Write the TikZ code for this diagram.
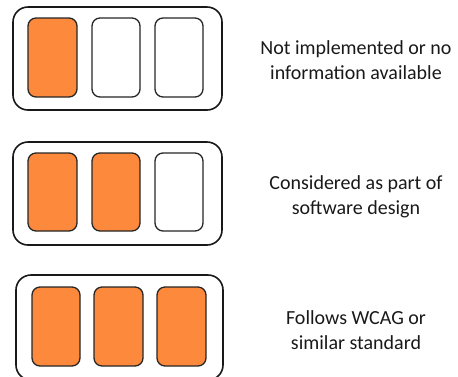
\documentclass[tikz,border=0pt]{standalone}
\usepackage{fontspec}
\setmainfont{Carlito}
\definecolor{orng}{RGB}{252,137,60}
\tikzset{
  outerbox/.style={draw=black!90, line width=1.6bp, rounded corners=15bp},
  cell/.style={draw=black!85, line width=1.3bp, rounded corners=8bp},
  on/.style={cell, fill=orng},
  off/.style={cell, fill=white},
  lbl/.style={align=center, font=\fontsize{20bp}{25bp}\selectfont, text=black!90}
}
\begin{document}
\begin{tikzpicture}[x=1bp,y=-1bp]
\useasboundingbox (0,0) rectangle (458,376);
% row 1
\draw[outerbox] (13,7) rectangle (222,110);
\draw[on]  (28,18) rectangle (77,97);
\draw[off] (92,18) rectangle (140,97);
\draw[off] (155,18) rectangle (203,97);
\node[lbl] (t1) at (356,60) {Not implemented or no\\information available};
% row 2
\draw[outerbox] (13,142) rectangle (222,245);
\draw[on]  (28,153) rectangle (77,231);
\draw[on]  (92,153) rectangle (140,231);
\draw[off] (155,153) rectangle (203,231);
\node[lbl] (t2) at (356,197) {Considered as part of\\software design};
% row 3
\draw[outerbox] (16,275) rectangle (223,380);
\draw[on] (32,287) rectangle (80,366);
\draw[on] (94,287) rectangle (143,366);
\draw[on] (157,287) rectangle (206,366);
\node[lbl] (t3) at (356,330) {Follows WCAG or\\similar standard};
\end{tikzpicture}
\end{document}
